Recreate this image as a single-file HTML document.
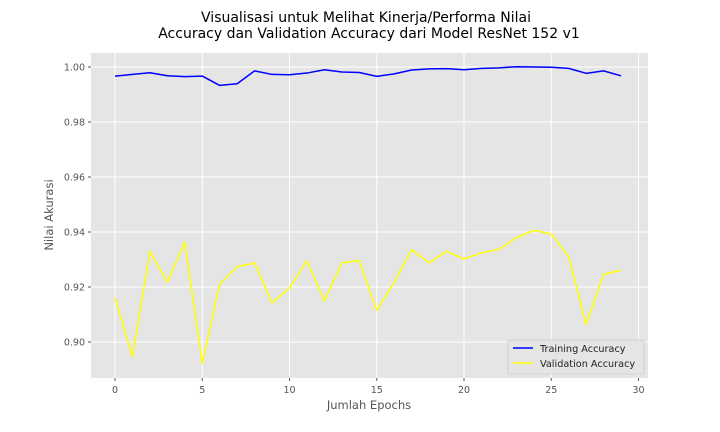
<!DOCTYPE html>
<html><head><meta charset="utf-8"><style>
body{margin:0;background:#fff;}
svg{display:block;font-family:"DejaVu Sans","Liberation Sans",sans-serif;}
</style></head><body>
<svg id="chart" width="720" height="432">
<text x="366" y="22" text-anchor="middle" font-size="14" fill="#000">Visualisasi untuk Melihat Kinerja/Performa Nilai</text>
<text x="369" y="38" text-anchor="middle" font-size="14" fill="#000">Accuracy dan Validation Accuracy dari Model ResNet 152 v1</text>
<rect x="91" y="53" width="557" height="325" fill="#e5e5e5"/>
<g id="grid"></g>
<g id="ticks"></g>
<g id="series"></g>
<text x="369" y="409" text-anchor="middle" font-size="11.5" fill="#555">Jumlah Epochs</text>
<text x="53" y="215" text-anchor="middle" font-size="11.5" fill="#555" transform="rotate(-90 53 215)">Nilai Akurasi</text>
<g>
<rect x="508" y="340" width="136" height="34" fill="#e5e5e5" stroke="#ccc" stroke-width="0.8" rx="2"/>
<line x1="513" y1="348" x2="533" y2="348" stroke="#0000ff" stroke-width="1.5"/>
<text x="540" y="352" font-size="9.7" fill="#222">Training Accuracy</text>
<line x1="513" y1="363" x2="533" y2="363" stroke="#ffff00" stroke-width="1.5"/>
<text x="540" y="367" font-size="9.7" fill="#222">Validation Accuracy</text>
</g>
</svg>
<script>
const epochs = Array.from({length:30},(_,i)=>i);
const training = [0.9967,0.9973,0.9979,0.9968,0.9965,0.9967,0.9933,0.9939,0.9986,0.9973,0.9972,0.9978,0.9990,0.9982,0.9980,0.9966,0.9975,0.9989,0.9993,0.9994,0.9990,0.9995,0.9997,1.0001,1.0000,0.9999,0.9995,0.9977,0.9986,0.9968];
const validation = [0.9161,0.8947,0.9330,0.9218,0.9364,0.8922,0.9210,0.9274,0.9287,0.9142,0.9197,0.9295,0.9149,0.9288,0.9296,0.9115,0.9217,0.9336,0.9288,0.9330,0.9302,0.9324,0.9337,0.9379,0.9406,0.9393,0.9310,0.9064,0.9246,0.9261];
const xTicks = [0,5,10,15,20,25,30];
const yTicks = [0.90,0.92,0.94,0.96,0.98,1.00];
const yTickLabels = ["0.90","0.92","0.94","0.96","0.98","1.00"];

const NS="http://www.w3.org/2000/svg";
const xs = v => 115 + v*17.45;
const ys = v => 67 + (1.0 - v)*2750;
const grid=document.getElementById('grid'), ticks=document.getElementById('ticks'), series=document.getElementById('series');
function mk(tag, attrs, parent){const e=document.createElementNS(NS,tag);for(const k in attrs)e.setAttribute(k,attrs[k]);parent.appendChild(e);return e;}
xTicks.forEach(t=>{
  const l=mk('line',{x1:xs(t),x2:xs(t),y1:53,y2:378,stroke:'#fff','stroke-width':1},grid);
  
  
  const tk=mk('line',{x1:xs(t),x2:xs(t),y1:378,y2:381,stroke:'#555'},ticks);
  
  
  const tx=mk('text',{x:xs(t),y:393,'text-anchor':'middle','font-size':9.5,fill:'#555'},ticks);
  tx.textContent=t;
  
  
});
yTicks.forEach((t,i)=>{
  const l=mk('line',{x1:91,x2:648,y1:ys(t),y2:ys(t),stroke:'#fff','stroke-width':1},grid);
  
  
  const tk=mk('line',{x1:88,x2:91,y1:ys(t),y2:ys(t),stroke:'#555'},ticks);
  
  
  const tx=mk('text',{x:85,y:ys(t)+3.5,'text-anchor':'end','font-size':9.5,fill:'#555'},ticks);
  tx.textContent=yTickLabels[i];
  
  
});
function line(data,color,name){
  const p=mk('polyline',{points:data.map((v,i)=>xs(epochs[i])+','+ys(v)).join(' '),fill:'none',stroke:color,'stroke-width':1.5,'stroke-linejoin':'round'},series);
  
  
}
line(training,'#0000ff','training-accuracy-line');
line(validation,'#ffff00','validation-accuracy-line');
</script>
</body></html>
